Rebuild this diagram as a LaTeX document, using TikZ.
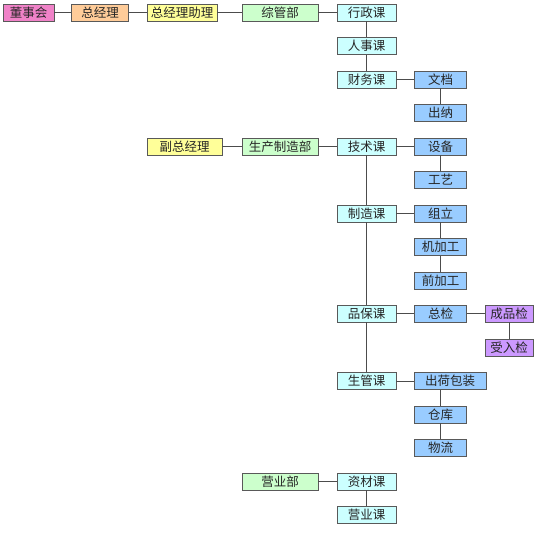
\documentclass[tikz,border=0pt]{standalone}
\usepackage{fontspec}
\setmainfont{Noto Sans CJK SC}
\begin{document}
\begin{tikzpicture}[x=1pt,y=-1pt,
  box/.style={draw=black!65, line width=0.8pt, minimum height=17pt, inner sep=0pt,
    font=\fontsize{12.5}{13}\selectfont, text=black!85},
  link/.style={draw=black!70, line width=0.7pt},
  w51/.style={minimum width=51pt}, w57/.style={minimum width=57pt},
  w70/.style={minimum width=70pt}, w76/.style={minimum width=76pt},
  w59/.style={minimum width=59pt}, w52/.style={minimum width=52pt},
  w72/.style={minimum width=72pt}, w48/.style={minimum width=48pt},
  pinkbox/.style={box, fill={rgb,255:red,240;green,130;blue,200}},
  orangebox/.style={box, fill={rgb,255:red,255;green,204;blue,153}},
  yellowbox/.style={box, fill={rgb,255:red,255;green,255;blue,153}},
  greenbox/.style={box, fill={rgb,255:red,204;green,255;blue,204}, w76},
  cyanbox/.style={box, fill={rgb,255:red,204;green,255;blue,255}, w59},
  bluebox/.style={box, fill={rgb,255:red,153;green,204;blue,255}, w52},
  purplebox/.style={box, fill={rgb,255:red,204;green,153;blue,255}, w48}
]
\useasboundingbox (0,0) rectangle (540,538);
% top row
\node[pinkbox, w51] (dsh) at (28.5,12.5) {董事会};
\node[orangebox, w57] (zjl) at (100,12.5) {总经理};
\node[yellowbox, w70] (zjlzl) at (182,12.5) {总经理助理};
\node[greenbox] (zgb) at (280,12.5) {综管部};
\node[cyanbox] (xzk) at (366.5,12.5) {行政课};
\node[cyanbox] (rsk) at (366.5,46) {人事课};
\node[cyanbox] (cwk) at (366.5,79.5) {财务课};
\node[bluebox] (wd) at (440.5,79.5) {文档};
\node[bluebox] (cn) at (440.5,113) {出纳};
% production
\node[yellowbox, minimum width=75pt] (fzjl) at (184.5,146.5) {副总经理};
\node[greenbox] (sczzb) at (280,146.5) {生产制造部};
\node[cyanbox] (jsk) at (366.5,146.5) {技术课};
\node[bluebox] (sb) at (440.5,146.5) {设备};
\node[bluebox] (gy) at (440.5,180) {工艺};
\node[cyanbox] (zzk) at (366.5,213.5) {制造课};
\node[bluebox] (zl) at (440.5,213.5) {组立};
\node[bluebox] (jjg) at (440.5,247) {机加工};
\node[bluebox] (qjg) at (440.5,280.5) {前加工};
\node[cyanbox] (pbk) at (366.5,313.5) {品保课};
\node[bluebox] (zj) at (440.5,313.5) {总检};
\node[purplebox] (cpj) at (509,313.5) {成品检};
\node[purplebox] (srj) at (509,347.5) {受入检};
\node[cyanbox] (sgk) at (366.5,381) {生管课};
\node[bluebox, w72] (chbz) at (450,381) {出荷包装};
\node[bluebox] (ck) at (440.5,414.5) {仓库};
\node[bluebox] (wl) at (440.5,448) {物流};
% sales
\node[greenbox] (yyb) at (280,481.5) {营业部};
\node[cyanbox] (zck) at (366.5,481.5) {资材课};
\node[cyanbox] (yyk) at (366.5,515) {营业课};
% connectors
\draw[link] (dsh) -- (zjl);
\draw[link] (zjl) -- (zjlzl);
\draw[link] (zjlzl) -- (zgb);
\draw[link] (zgb) -- (xzk);
\draw[link] (xzk) -- (rsk);
\draw[link] (rsk) -- (cwk);
\draw[link] (cwk) -- (wd);
\draw[link] (wd) -- (cn);
\draw[link] (fzjl) -- (sczzb);
\draw[link] (sczzb) -- (jsk);
\draw[link] (jsk) -- (sb);
\draw[link] (sb) -- (gy);
\draw[link] (jsk) -- (zzk);
\draw[link] (zzk) -- (pbk);
\draw[link] (pbk) -- (sgk);
\draw[link] (zzk) -- (zl);
\draw[link] (zl) -- (jjg);
\draw[link] (jjg) -- (qjg);
\draw[link] (pbk) -- (zj);
\draw[link] (zj) -- (cpj);
\draw[link] (cpj) -- (srj);
\draw[link] (sgk) -- (chbz);
\draw[link] (ck.north |- chbz.south) -- (ck.north);
\draw[link] (ck) -- (wl);
\draw[link] (yyb) -- (zck);
\draw[link] (zck) -- (yyk);
\end{tikzpicture}
\end{document}
